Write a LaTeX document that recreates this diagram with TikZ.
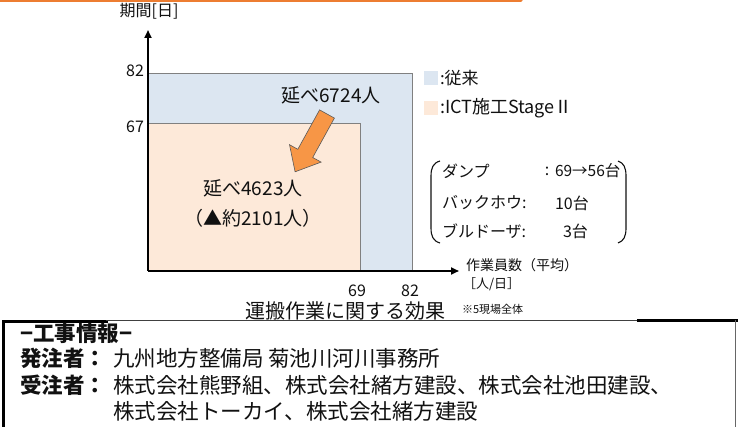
\documentclass[tikz,border=0pt]{standalone}
\usepackage{fontspec}
\setmainfont{Noto Sans CJK JP}
\usetikzlibrary{arrows.meta}
\definecolor{blueA}{HTML}{DCE6F1}
\definecolor{orangeA}{HTML}{FDE9D9}
\definecolor{arrowC}{HTML}{F79646}
\definecolor{topline}{HTML}{ED7D31}
\definecolor{txt}{HTML}{111111}
\definecolor{rectline}{HTML}{808080}
\tikzset{
  every node/.style={inner sep=0pt, outer sep=0pt, text=txt},
  fs/.style={font=\fontsize{#1}{#1}\selectfont},
  fsb/.style={font=\fontsize{#1}{#1}\selectfont\bfseries},
  axisline/.style={line width=2pt, black, -{Triangle[length=8pt,width=7pt]}},
  rectb/.style={draw=rectline, line width=0.9pt},
  legsq/.style={minimum size=14pt, draw=none},
  paren/.style={line width=1.1pt, txt},
  thickbox/.style={line width=3pt, black},
  thinbox/.style={line width=1pt, black!75},
}
\begin{document}
\begin{tikzpicture}[x=1pt,y=-1pt]
\useasboundingbox (0,0) rectangle (738,427);
\fill[white] (0,0) rectangle (738,427);
% top orange line
\coordinate (tl1) at (0,1);
\coordinate (tl2) at (521,1);
\draw[topline, line width=3pt, line cap=round] (tl1) -- (tl2);

% bars
\draw[rectb, fill=blueA] (148,73) rectangle (412,271);
\draw[rectb, fill=orangeA] (148,123) rectangle (360,271);

% axes
\coordinate (O) at (148,271);
\coordinate (ytop) at (148,30);
\coordinate (xend) at (459,271);
\draw[axisline] (O) -- (ytop);
\draw[axisline] (O) -- (xend);
\node[fs=16] (ylab) at (149,11) {期間[日]};
\node[fs=16] (y82) at (135,71) {82};
\node[fs=16] (y67) at (135,127) {67};
\node[fs=16] (x69) at (357,291) {69};
\node[fs=16] (x82) at (410,291) {82};
\node[fs=14, anchor=west] (xlab1) at (466,265) {作業員数（平均）};
\node[fs=13, anchor=west] (xlab2) at (463,284) {［人/日］};

% orange arrow
\filldraw[fill=arrowC, draw=black!65, line width=0.6pt, line join=miter]
  (319.6,109.9) -- (334.4,118.1) -- (312.7,157.5) -- (321.1,162.1)
  -- (295.1,171.8) -- (289.5,144.7) -- (297.8,149.3) -- cycle;

\node[fs=19] (v6724) at (331,95) {延べ6724人};
\node[fs=19] (v4623) at (253,188) {延べ4623人};
\node[fs=19] (v2101) at (253,218) {（▲約2101人）};

% legend
\node[legsq, fill=blueA] (lg1) at (431,78) {};
\node[legsq, fill=orangeA] (lg2) at (431,108) {};
\node[fs=17, anchor=west] (lt1) at (440,78) {:従来};
\node[fs=18, anchor=west] (lt2) at (440,108) {:ICT施工StageⅡ};

% machine list
\draw[paren] (440,161) .. controls (433,163) and (431,168) .. (431,176) -- (431,228) .. controls (431,236) and (433,241) .. (440,243);
\draw[paren] (618,161) .. controls (624,163) and (626,168) .. (626,176) -- (626,228) .. controls (626,236) and (624,241) .. (618,243);
\node[fs=16, anchor=west] (m1) at (442,171) {ダンプ};
\node[fs=16] (c1) at (547,171) {:};
\node[fs=15.5, anchor=west] (m1v) at (555,171) {69→56台};
\node[fs=16, anchor=west] (m2) at (442,203) {バックホウ:};
\node[fs=16, anchor=west] (m2v) at (555,203) {10台};
\node[fs=16, anchor=west] (m3) at (442,231) {ブルドーザ:};
\node[fs=16, anchor=west] (m3v) at (563,231) {3台};

% caption
\node[fs=20] (cap) at (345,311) {運搬作業に関する効果};
\node[fs=11, anchor=west] (note) at (462,309) {※5現場全体};

% info box frame
\coordinate (b1) at (3,427);
\coordinate (b2) at (3,321);
\coordinate (b3) at (106,321);
\coordinate (b4) at (106,320);
\coordinate (b5) at (637,320);
\coordinate (b6) at (738,320);
\coordinate (b7) at (735,320);
\coordinate (b8) at (735,427);
\draw[thickbox, line cap=rect] (b1) -- (b2) -- (b3);
\draw[thinbox] (b4) -- (b5);
\draw[thickbox] (b5) -- (b6);
\draw[line width=0.8pt, black!60] (b7) -- (b8);

% info text
\node[fsb=21.5, anchor=west] (i0) at (20,333) {−工事情報−};
\node[fsb=21.5, anchor=west] (i1l) at (20,358) {発注者：};
\node[fs=21.5, anchor=west] (i1) at (113,358) {九州地方整備局 菊池川河川事務所};
\node[fsb=21.5, anchor=west] (i2l) at (20,385) {受注者：};
\node[fs=21.5, anchor=west] (i2) at (113,385) {株式会社熊野組、株式会社緒方建設、株式会社池田建設、};
\node[fs=21.5, anchor=west] (i3) at (113,411) {株式会社トーカイ、株式会社緒方建設};
\end{tikzpicture}
\end{document}
